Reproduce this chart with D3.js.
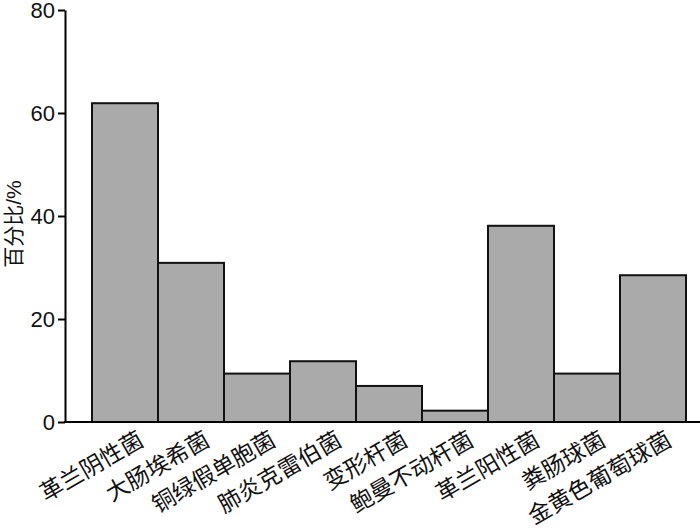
<!DOCTYPE html>
<html><head><meta charset="utf-8">
<script src="https://cdn.jsdelivr.net/npm/d3@7"></script>
<style>body{margin:0;background:#fff}svg{display:block}</style>
</head><body>
<svg id="c" width="700" height="530"></svg>
<script>
const categories = ["革兰阴性菌","大肠埃希菌","铜绿假单胞菌","肺炎克雷伯菌","变形杆菌","鲍曼不动杆菌","革兰阳性菌","粪肠球菌","金黄色葡萄球菌"];
const values = [61.9, 30.9, 9.4, 11.8, 7.0, 2.2, 38.1, 9.4, 28.5];
const yTicks = [0, 20, 40, 60, 80];
const yLabel = "百分比/%";

const svg = d3.select("#c");
const font = "'Liberation Sans', Arial, 'Noto Sans CJK SC', sans-serif";
const y = d3.scaleLinear().domain([0, 80]).range([422, 10]);
const x = d3.scaleBand().domain(categories).range([92, 686]).padding(0);

svg.selectAll("rect.bar").data(categories).enter().append("rect")
  .attr("x", d => x(d)).attr("width", x.bandwidth())
  .attr("y", (d,i) => y(values[i])).attr("height", (d,i) => y(0) - y(values[i]))
  .attr("fill", "#aaaaaa").attr("stroke", "#111").attr("stroke-width", 2);

const ya = svg.append("g").attr("transform", "translate(65,0)")
  .call(d3.axisLeft(y).tickValues(yTicks).tickSize(7).tickPadding(3).tickSizeOuter(0));
ya.select(".domain").attr("stroke", "#000").attr("stroke-width", 2);
ya.selectAll(".tick line").attr("stroke", "#000").attr("stroke-width", 2);
ya.selectAll(".tick text").attr("font-family", font).attr("font-size", 22).attr("fill", "#111");

svg.append("line").attr("x1", 64).attr("x2", 700).attr("y1", y(0)).attr("y2", y(0))
  .attr("stroke", "#000").attr("stroke-width", 2);

svg.selectAll("text.xl").data(categories).enter().append("text")
  .attr("class", "xl")
  .attr("transform", d => `translate(${x(d) + x.bandwidth()/2 + 12},${y(0) + 8}) rotate(-30)`)
  .attr("text-anchor", "end").attr("dominant-baseline", "hanging")
  .attr("font-family", font).attr("font-size", 23).attr("fill", "#111")
  .text(d => d);

svg.append("text").attr("transform", "translate(21,224) rotate(-90)")
  .attr("text-anchor", "middle")
  .attr("font-family", font).attr("font-size", 21).attr("fill", "#111")
  .text(yLabel);
</script>
</body></html>
